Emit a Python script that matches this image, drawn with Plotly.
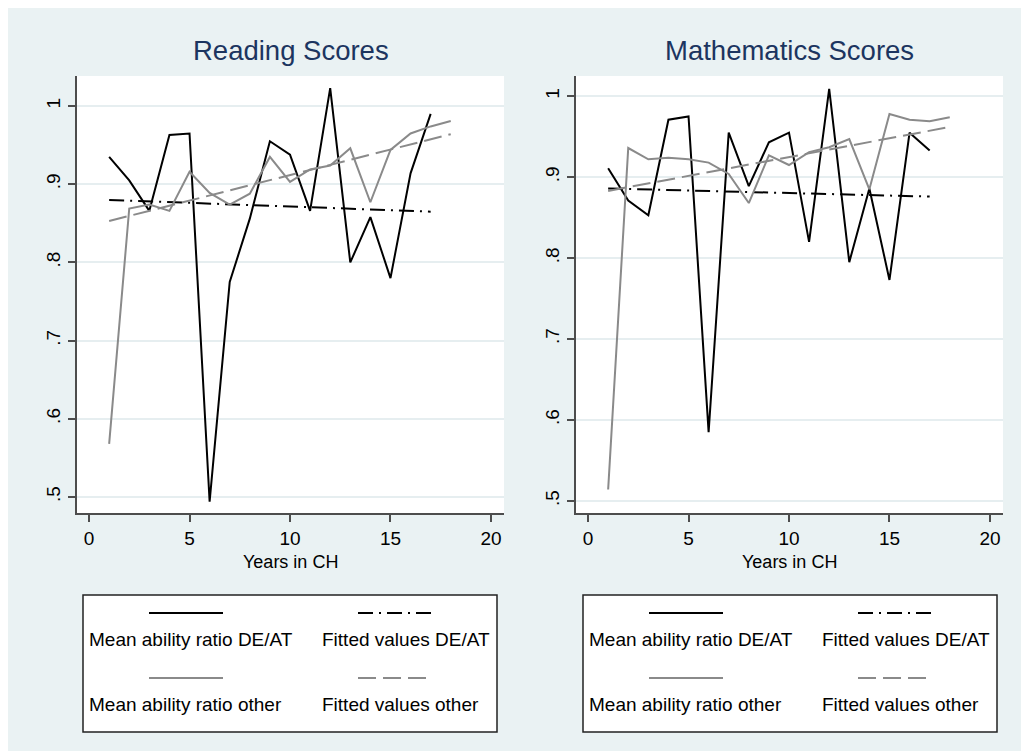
import plotly.graph_objects as go

# ─── Data ────────────────────────────────────────────────────────────────────

years_deat = list(range(1, 18))
years_other = list(range(1, 19))

read_deat = [0.935, 0.905, 0.866, 0.963, 0.965, 0.494, 0.775, 0.856, 0.955,
             0.938, 0.866, 1.023, 0.800, 0.858, 0.780, 0.914, 0.990]
read_other = [0.568, 0.869, 0.874, 0.866, 0.916, 0.889, 0.874, 0.888, 0.935,
              0.903, 0.919, 0.924, 0.946, 0.877, 0.944, 0.965, 0.974, 0.981]
read_fit_deat = [0.880, 0.865]
read_fit_other = [0.853, 0.964]

math_deat = [0.911, 0.871, 0.853, 0.971, 0.975, 0.585, 0.955, 0.889, 0.943,
             0.955, 0.820, 1.009, 0.795, 0.886, 0.773, 0.955, 0.933]
math_other = [0.514, 0.936, 0.922, 0.924, 0.922, 0.918, 0.904, 0.868, 0.927,
              0.915, 0.931, 0.937, 0.947, 0.885, 0.978, 0.971, 0.969, 0.974]
math_fit_deat = [0.886, 0.876]
math_fit_other = [0.883, 0.962]

fit_x_deat = [years_deat[0], years_deat[-1]]
fit_x_other = [years_other[0], years_other[-1]]

titles = ["Reading Scores", "Mathematics Scores"]
x_title = "Years in CH"
x_ticks = [0, 5, 10, 15, 20]
y_ticks = [0.5, 0.6, 0.7, 0.8, 0.9, 1.0]
y_ticklabels = [".5", ".6", ".7", ".8", ".9", "1"]
legend_labels = ["Mean ability ratio DE/AT", "Fitted values DE/AT",
                 "Mean ability ratio other", "Fitted values other"]

# ─── Styling ─────────────────────────────────────────────────────────────────

W, H = 1019, 743
OFF = 8  # page margin of the browser; positions below are screen pixels
BG = "#eaf2f3"
GRID = "#e6eef0"
AXIS = "#4d4d4d"
NAVY = "#1c3560"
GRAY = "#8a8a8a"
FONT = "Liberation Sans, Arial, sans-serif"

DASH_DOT = "15px,6px,2px,6px"
DASH = "18px,7px"


def px(x):
    return (x - OFF) / W


def py(y):
    return 1 - (y - OFF) / H


panels = [
    dict(x0=77, x1=504, y0=76, y1=513, yrange=[0.4795, 1.0385],
         deat=read_deat, other=read_other, fd=read_fit_deat, fo=read_fit_other),
    dict(x0=576, x1=1003, y0=76, y1=513, yrange=[0.485, 1.025],
         deat=math_deat, other=math_other, fd=math_fit_deat, fo=math_fit_other),
]

fig = go.Figure()
shapes = []
annotations = []

for i, p in enumerate(panels):
    sfx = "" if i == 0 else str(i + 1)
    xa, ya = "x" + sfx, "y" + sfx

    fig.add_trace(go.Scatter(x=years_deat, y=p["deat"], mode="lines",
                             line=dict(color="black", width=2),
                             xaxis=xa, yaxis=ya, showlegend=False))
    fig.add_trace(go.Scatter(x=fit_x_deat, y=p["fd"], mode="lines",
                             line=dict(color="black", width=2, dash=DASH_DOT),
                             xaxis=xa, yaxis=ya, showlegend=False))
    fig.add_trace(go.Scatter(x=years_other, y=p["other"], mode="lines",
                             line=dict(color=GRAY, width=2),
                             xaxis=xa, yaxis=ya, showlegend=False))
    fig.add_trace(go.Scatter(x=fit_x_other, y=p["fo"], mode="lines",
                             line=dict(color=GRAY, width=2, dash=DASH),
                             xaxis=xa, yaxis=ya, showlegend=False))

    fig.layout["xaxis" + sfx] = dict(
        domain=[px(p["x0"]), px(p["x1"])], anchor=ya,
        range=[-0.6, 20.65], tickvals=x_ticks, ticks="outside", ticklen=7,
        tickwidth=2, tickcolor=AXIS, showline=True, linecolor=AXIS, linewidth=2,
        showgrid=False, zeroline=False, tickfont=dict(size=19, color="black"),
        fixedrange=True, automargin=False,
    )
    fig.layout["yaxis" + sfx] = dict(
        domain=[py(p["y1"]), py(p["y0"])], anchor=xa,
        range=p["yrange"], tickvals=y_ticks, ticktext=y_ticklabels,
        tickangle=-90, ticks="outside", ticklen=7, tickwidth=2, tickcolor=AXIS,
        showline=True, linecolor=AXIS, linewidth=2, showgrid=True,
        gridcolor=GRID, gridwidth=2, zeroline=False,
        tickfont=dict(size=19, color="black"), fixedrange=True,
        automargin=False,
    )

    cx = (p["x0"] + p["x1"]) / 2
    annotations.append(dict(text=titles[i], x=px(cx), y=py(51), xref="paper",
                            yref="paper", showarrow=False, xanchor="center",
                            yanchor="middle", font=dict(size=27.5, color=NAVY)))
    annotations.append(dict(text=x_title, x=px(cx), y=py(562), xref="paper",
                            yref="paper", showarrow=False, xanchor="center",
                            yanchor="middle", font=dict(size=18, color="black")))

    # legend box, Stata style: key above label, 2 x 2
    off = 500 * i
    shapes.append(dict(type="rect", xref="paper", yref="paper",
                       x0=px(83 + off), x1=px(497 + off), y0=py(732), y1=py(595),
                       fillcolor="white", line=dict(color="#222", width=1.5)))
    keys = [("black", None), ("black", DASH_DOT), (GRAY, None), (GRAY, DASH)]
    for k, (col, dash) in enumerate(keys):
        r, c = divmod(k, 2)
        lx0 = (149 if c == 0 else 358) + off
        ly = 613 + 65 * r
        line = dict(color=col, width=2)
        if dash:
            line["dash"] = dash
        shapes.append(dict(type="line", xref="paper", yref="paper",
                           x0=px(lx0), x1=px(lx0 + 74), y0=py(ly), y1=py(ly),
                           line=line))
        tx = (87 if c == 0 else 320) + off
        annotations.append(dict(text=legend_labels[k], x=px(tx), y=py(ly + 26),
                                xref="paper", yref="paper", showarrow=False,
                                xanchor="left", yanchor="middle",
                                font=dict(size=19, color="black")))

fig.update_layout(
    width=W, height=H,
    margin=dict(l=0, r=0, t=0, b=0),
    paper_bgcolor=BG, plot_bgcolor="white",
    font=dict(family=FONT, color="black"),
    showlegend=False,
    shapes=shapes, annotations=annotations,
)

fig.write_html("out.html")
